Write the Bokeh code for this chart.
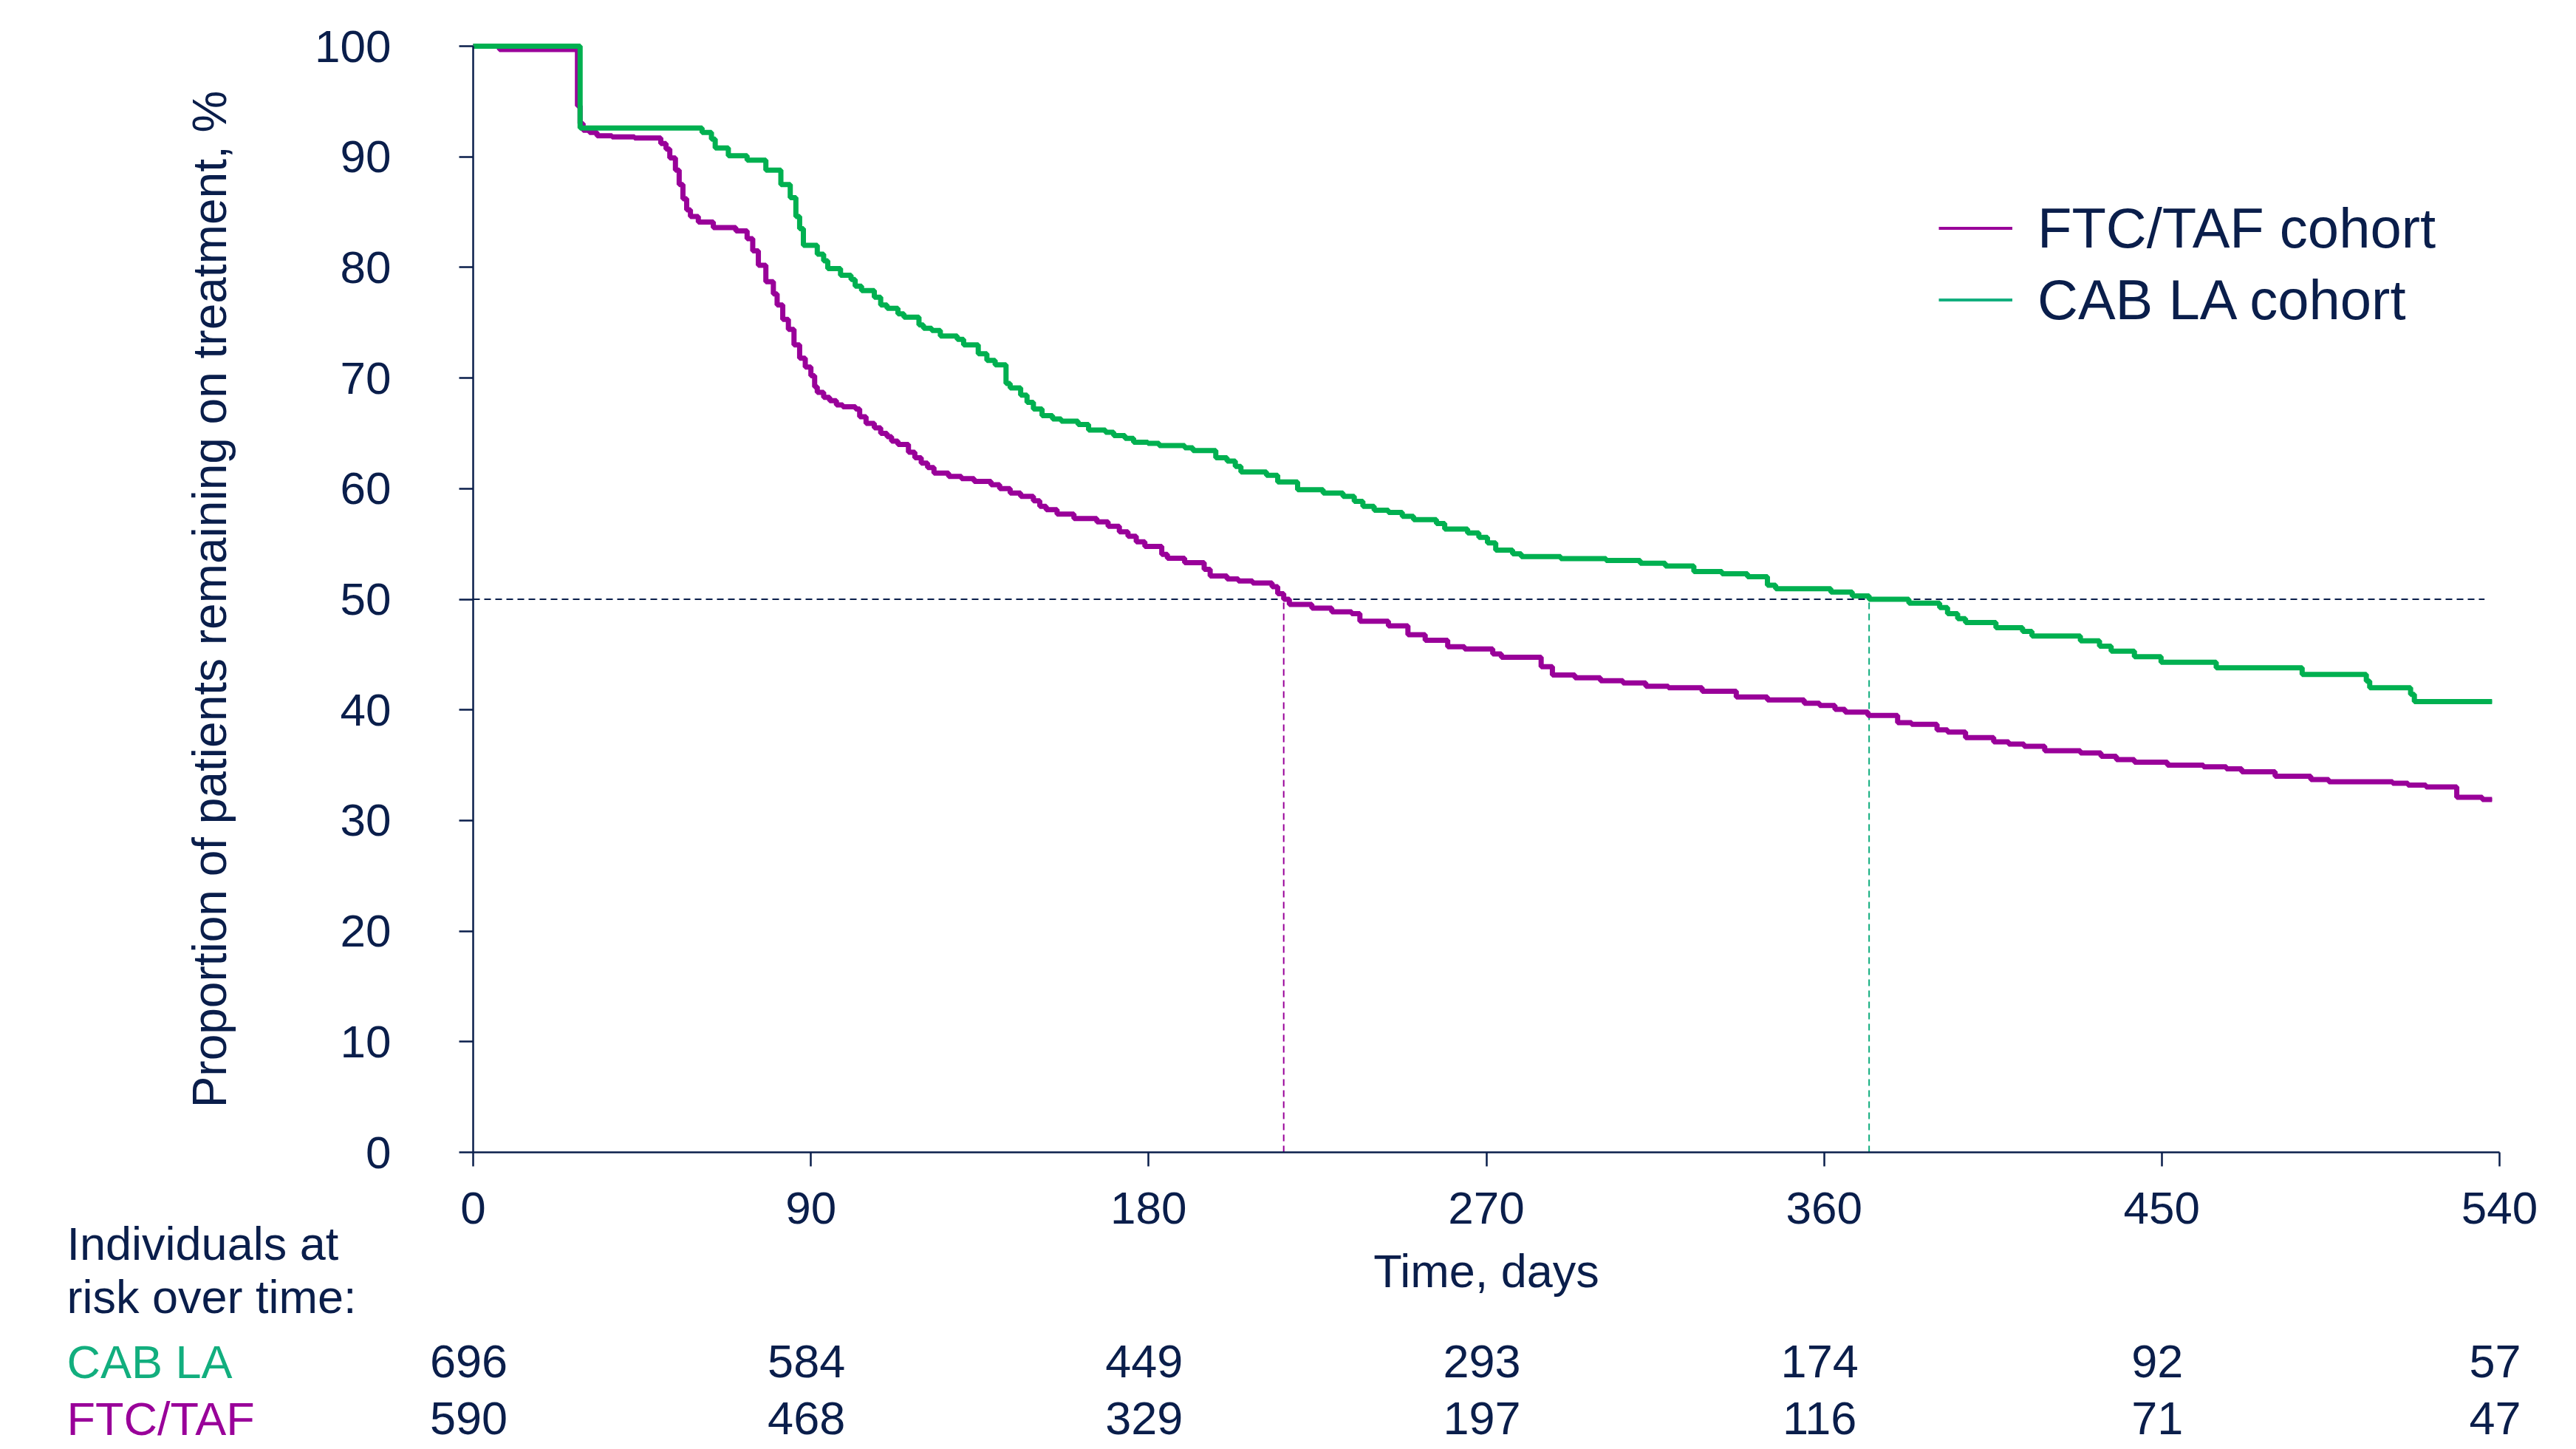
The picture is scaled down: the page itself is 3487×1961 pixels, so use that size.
from bokeh.plotting import figure
from bokeh.models import Range1d, Legend, LegendItem
from bokeh.embed import file_html
from bokeh.resources import INLINE
from bokeh.core.properties import value

# ---------------- data ----------------
cab_days = [0, 28.5, 61, 63.5, 64.5, 68, 73, 78, 82, 84.5, 86, 87, 88,
            91.7, 93.4, 94.5, 97.9, 100.7, 101.8, 103.5, 106.9, 108.6, 110.3, 113.2, 114.8,
            118.8, 120, 122.2, 124.5, 129, 130.7, 134.6, 136.9, 139.1, 142, 143.1, 145.9,
            147.6, 149.3, 151.6, 154.4, 156.7, 161.2, 164, 168.5, 170.7, 173.7, 176, 179.8,
            182.8, 189.6, 191.8, 197.9, 200.9, 203.1, 204.6, 211.4, 214.4, 219.7, 226.5,
            231.8, 234.8, 237.1, 240.1, 243.9, 247.6, 250.6, 256.7, 258.9, 265, 268, 270.3,
            272.5, 277, 279.3, 289.8, 301.9, 311, 317.7, 325.3, 332.8, 339.6, 344.9, 347.1,
            361.8, 367.5, 372, 382.6, 390.8, 392.9, 395.6, 397.7, 405.8, 412.9, 415.4, 428.3,
            433.4, 436.5, 442.7, 449.8, 464.5, 487.4, 504.5, 505.4, 516.3, 517.3, 538]
cab_surv = [100, 92.6, 92.2, 91.6, 90.8, 90.1, 89.7, 88.8, 87.5, 86.3, 84.6, 83.5, 82.0,
            81.2, 80.6, 79.9, 79.3, 78.9, 78.3, 77.9, 77.3, 76.6, 76.3, 75.8, 75.5,
            74.8, 74.5, 74.3, 73.8, 73.5, 73.0, 72.2, 71.6, 71.2, 69.5, 69.1, 68.45,
            67.8, 67.2, 66.6, 66.3, 66.1, 65.8, 65.3, 65.1, 64.8, 64.55, 64.2, 64.1,
            63.9, 63.7, 63.45, 62.8, 62.5, 62.0, 61.5, 61.2, 60.6, 59.9, 59.6,
            59.3, 58.85, 58.4, 58.05, 57.85, 57.5, 57.2, 56.85, 56.35, 56.0, 55.6, 55.1,
            54.45, 54.1, 53.86, 53.68, 53.5, 53.25, 53.0, 52.5, 52.3, 52.03, 51.27, 50.95,
            50.65, 50.3, 50.0, 49.65, 49.25, 48.7, 48.25, 47.9, 47.43, 47.1, 46.67, 46.25,
            45.76, 45.3, 44.8, 44.3, 43.8, 43.2, 42.6, 42.0, 41.4, 40.75, 40.75]

ftc_days = [0, 7, 27.8, 28.5, 29.3, 31, 33, 37, 43, 50, 51.4, 52.4, 53.9, 54.9, 55.9, 56.9,
            57.9, 60, 64, 70, 73, 74.5, 76, 78, 80, 81, 82.5, 84, 85.5, 87, 88.5, 90, 91,
            91.7, 93.4, 95, 96.8, 98.5, 101.9, 103, 104.7, 106.9, 108.6, 110.3, 111.5, 113.2,
            116, 117.7, 119.4, 121.1, 122.8, 126.7, 130.1, 133.5, 138, 140.3, 143.1, 145.9,
            149.3, 151, 152.7, 155.6, 160.1, 166.2, 169.2, 172.2, 174.5, 176.7, 179, 183.5,
            185, 189.6, 194.8, 196.4, 200.9, 203.9, 207.7, 212.9, 214.4, 216, 217.5, 223.5,
            228.8, 234.1, 236.3, 243.9, 249.1, 253.7, 259.7, 264.2, 271.7, 274, 284.6, 287.6,
            293.6, 300.4, 306.4, 312.5, 318.5, 327.5, 336.6, 344.9, 354.7, 358.8, 362.9,
            365.6, 371.7, 379.6, 383.3, 390.1, 392.9, 397.7, 405.2, 409.2, 413.3, 418.8,
            428.3, 433.8, 437.9, 442.7, 451.5, 461.1, 467.2, 471.3, 480.2, 489.7, 494.5,
            511.5, 515.6, 520.4, 528.6, 535.4, 538]
ftc_surv = [100, 99.7, 94.6, 93.0, 92.4, 92.2, 91.9, 91.8, 91.7, 91.2, 90.7, 89.9, 88.8, 87.5,
            86.2, 85.2, 84.6, 84.1, 83.6, 83.3, 82.6, 81.5, 80.2, 78.7, 77.6, 76.6, 75.3, 74.4,
            73.0, 71.8, 71.0, 70.2, 69.2, 68.7, 68.25, 67.95, 67.57, 67.4, 67.2, 66.5, 65.9,
            65.5, 65.0, 64.7, 64.3, 64.0, 63.3, 62.8, 62.3, 61.9, 61.4, 61.1, 60.9, 60.66,
            60.35, 60.0, 59.6, 59.3, 58.9, 58.4, 58.1, 57.7, 57.3, 57.0, 56.6, 56.1, 55.7,
            55.2, 54.77, 54.06, 53.7, 53.3, 52.7, 52.1, 51.83, 51.65, 51.47, 51.14, 50.5,
            50.0, 49.54, 49.2, 48.86, 48.7, 48.02, 47.6, 46.8, 46.3, 45.7, 45.5, 45.05, 44.75,
            43.9, 43.15, 42.9, 42.64, 42.44, 42.13, 42.0, 41.68, 41.17, 40.9, 40.6, 40.4,
            40.05, 39.8, 39.5, 38.85, 38.7, 38.2, 38.0, 37.5, 37.1, 36.9, 36.7, 36.3, 36.1,
            35.8, 35.5, 35.27, 35.0, 34.85, 34.67, 34.4, 34.0, 33.7, 33.5, 33.37, 33.2,
            33.04, 32.1, 31.9, 31.9]

x_ticks = [0, 90, 180, 270, 360, 450, 540]
y_ticks = [0, 10, 20, 30, 40, 50, 60, 70, 80, 90, 100]
risk_days = [0, 90, 180, 270, 360, 450, 540]
risk_cab = [696, 584, 449, 293, 174, 92, 57]
risk_ftc = [590, 468, 329, 197, 116, 71, 47]
median_level = 50
series_names = ["FTC/TAF cohort", "CAB LA cohort"]
row_names = ["CAB LA", "FTC/TAF"]
risk_header = ["Individuals at", "risk over time:"]

# ---------------- style / layout ----------------
NAVY = "#0A1E4B"
PURPLE = "#990099"
GREEN = "#00B050"
TEAL = "#12AE7E"
FONT = "Liberation Sans"

W, H = 3480, 1953
X0_PX, X540_PX = 640, 3383       # pixel columns of day 0 and day 540
Y0_PX, Y100_PX = 1559, 62        # pixel rows of 0 % and 100 %
PX_PER_DAY = (X540_PX - X0_PX) / 540.0
PX_PER_UNIT = (Y0_PX - Y100_PX) / 100.0


def x_at(px):
    return (px - X0_PX) / PX_PER_DAY


def y_at(px):
    return (Y0_PX - px) / PX_PER_UNIT


def median_time(t, s):
    for ti, si in zip(t, s):
        if si <= median_level:
            return ti
    return None


p = figure(width=W, height=H, output_backend="svg", toolbar_location=None,
           x_range=Range1d(x_at(0), x_at(W)), y_range=Range1d(y_at(H), y_at(0)),
           min_border_left=0, min_border_right=0, min_border_top=0, min_border_bottom=0)
p.outline_line_color = None
p.xgrid.visible = False
p.ygrid.visible = False
p.background_fill_color = "white"
p.border_fill_color = "white"

# reference lines at the median
p.segment(x0=[0], y0=[median_level], x1=[536], y1=[median_level],
          line_color=NAVY, line_width=2.2, line_dash="9 6")
m_ftc = median_time(ftc_days, ftc_surv)
m_cab = median_time(cab_days, cab_surv)
p.segment(x0=[m_ftc], y0=[0], x1=[m_ftc], y1=[median_level],
          line_color=PURPLE, line_width=2, line_dash="9 6")
p.segment(x0=[m_cab], y0=[0], x1=[m_cab], y1=[median_level],
          line_color=TEAL, line_width=2, line_dash="9 6")

# thin copies used only as legend glyphs (hidden under the thick curves)
lg_ftc = p.step(ftc_days, ftc_surv, mode="after", line_color=PURPLE, line_width=4)
lg_cab = p.step(cab_days, cab_surv, mode="after", line_color=TEAL, line_width=4)

# KM curves
p.step(ftc_days, ftc_surv, mode="after", line_color=PURPLE, line_width=7)
p.step(cab_days, cab_surv, mode="after", line_color=GREEN, line_width=7)

legend_top = 308 - 48.5
legend = Legend(items=[LegendItem(label=series_names[0], renderers=[lg_ftc]),
                       LegendItem(label=series_names[1], renderers=[lg_cab])],
                location=(2624, H - (legend_top + 2 * 97)), orientation="vertical",
                label_text_font=FONT, label_text_font_size="76px",
                label_text_color=NAVY, glyph_width=100, glyph_height=97,
                label_height=97, label_standoff=34, spacing=0, padding=0,
                margin=0, border_line_color=None, background_fill_alpha=0)
p.add_layout(legend)

# axes fixed at the origin so the whole page is one frame
p.xaxis.fixed_location = 0
p.yaxis.fixed_location = 0
for ax in (p.xaxis[0], p.yaxis[0]):
    ax.axis_line_color = NAVY
    ax.axis_line_width = 2.5
    ax.major_tick_line_color = NAVY
    ax.major_tick_line_width = 2.5
    ax.major_tick_in = 0
    ax.major_tick_out = 19
    ax.minor_tick_line_color = None
    ax.major_label_text_font = FONT
    ax.major_label_text_font_size = "62px"
    ax.major_label_text_color = NAVY
    ax.axis_label_text_font = FONT
    ax.axis_label_text_font_style = "normal"
    ax.axis_label_text_color = NAVY

p.xaxis.ticker = x_ticks
p.yaxis.ticker = y_ticks
p.xaxis.bounds = (0, 540)
p.yaxis.bounds = (0, 100)
p.xaxis.major_label_standoff = 35
p.yaxis.major_label_standoff = 92
p.xaxis.axis_label = "Time, days"
p.xaxis.axis_label_text_font_size = "63px"
p.xaxis.axis_label_standoff = 26
p.yaxis.axis_label = "Proportion of patients remaining on treatment, %"
p.yaxis.axis_label_text_font_size = "64px"
p.yaxis.axis_label_standoff = 103

# risk table
left_x = x_at(90)
head_y = [y_at(1682), y_at(1754)]
row_y = [y_at(1842), y_at(1919)]
p.text(x=[left_x, left_x], y=head_y, text=risk_header,
       text_font=value(FONT), text_font_size="63px", text_color=NAVY,
       text_align="left", text_baseline="middle")
p.text(x=[left_x, left_x], y=row_y, text=row_names,
       text_font=value(FONT), text_font_size="63px", text_color=[TEAL, PURPLE],
       text_align="left", text_baseline="middle")
p.text(x=risk_days, y=[row_y[0]] * len(risk_days), text=[str(v) for v in risk_cab],
       x_offset=-6, text_font=value(FONT), text_font_size="63px", text_color=NAVY,
       text_align="center", text_baseline="middle")
p.text(x=risk_days, y=[row_y[1]] * len(risk_days), text=[str(v) for v in risk_ftc],
       x_offset=-6, text_font=value(FONT), text_font_size="63px", text_color=NAVY,
       text_align="center", text_baseline="middle")

open("out.html", "w").write(file_html(p, INLINE))
